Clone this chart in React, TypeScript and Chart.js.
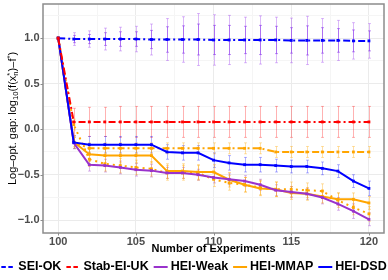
import React, { useEffect, useRef } from "react";
import { Chart, registerables } from "chart.js";

Chart.register(...registerables);

// ---------- data ----------
const experiments = [100, 101, 102, 103, 104, 105, 106, 107, 108, 109, 110, 111, 112, 113, 114, 115, 116, 117, 118, 119, 120];

const seiOK = [1.0, 0.99, 0.99, 0.99, 0.99, 0.99, 0.985, 0.985, 0.985, 0.985, 0.98, 0.98, 0.98, 0.98, 0.98, 0.975, 0.975, 0.975, 0.975, 0.97, 0.97];
const seiOKErr = [0, 0.07, 0.09, 0.12, 0.13, 0.14, 0.17, 0.23, 0.25, 0.285, 0.277, 0.27, 0.25, 0.265, 0.25, 0.245, 0.265, 0.24, 0.22, 0.2, 0.19];
const seiOKErrInner = [0, 0.04, 0.05, 0.07, 0.08, 0.08, 0.1, 0.14, 0.15, 0.17, 0.16, 0.16, 0.15, 0.16, 0.15, 0.14, 0.16, 0.14, 0.13, 0.12, 0.11];

const stabEIUK = [1.0, 0.08, 0.08, 0.08, 0.08, 0.08, 0.08, 0.08, 0.08, 0.08, 0.08, 0.08, 0.08, 0.08, 0.08, 0.08, 0.08, 0.08, 0.08, 0.08, 0.08];
const stabEIUKErr = [0, 0.15, 0.16, 0.16, 0.17, 0.17, 0.17, 0.17, 0.17, 0.17, 0.17, 0.17, 0.17, 0.17, 0.17, 0.17, 0.17, 0.17, 0.17, 0.17, 0.17];

const heiWeak = [1.0, -0.15, -0.39, -0.40, -0.42, -0.445, -0.455, -0.48, -0.48, -0.50, -0.53, -0.55, -0.57, -0.61, -0.67, -0.69, -0.71, -0.75, -0.82, -0.90, -0.99];
const heiWeakErr = [0, 0.06, 0.07, 0.07, 0.07, 0.07, 0.07, 0.06, 0.06, 0.06, 0.06, 0.06, 0.06, 0.06, 0.06, 0.06, 0.06, 0.07, 0.07, 0.08, 0.07];

const heiMMAP = [1.0, -0.14, -0.275, -0.29, -0.29, -0.29, -0.29, -0.46, -0.46, -0.47, -0.47, -0.555, -0.61, -0.65, -0.66, -0.70, -0.71, -0.74, -0.77, -0.77, -0.81];
const heiMMAPErr = [0, 0.07, 0.08, 0.08, 0.08, 0.08, 0.08, 0.08, 0.08, 0.08, 0.08, 0.08, 0.08, 0.08, 0.08, 0.07, 0.07, 0.07, 0.07, 0.07, 0.07];

const heiMMAPDashDot = [1.0, -0.14, -0.21, -0.21, -0.21, -0.21, -0.21, -0.21, -0.21, -0.21, -0.21, -0.21, -0.21, -0.21, -0.25, -0.25, -0.25, -0.25, -0.25, -0.25, -0.25];
const heiMMAPDashDotErr = [0, 0.05, 0.06, 0.06, 0.06, 0.06, 0.06, 0.06, 0.06, 0.06, 0.06, 0.06, 0.06, 0.06, 0.06, 0.06, 0.06, 0.06, 0.06, 0.06, 0.06];

const heiMMAPDotted = [1.0, 0.05, -0.33, -0.38, -0.40, -0.42, -0.435, -0.48, -0.48, -0.48, -0.55, -0.59, -0.61, -0.64, -0.66, -0.66, -0.67, -0.68, -0.78, -0.86, -0.93];
const heiMMAPDottedErr = [0, 0.06, 0.08, 0.08, 0.08, 0.08, 0.08, 0.08, 0.08, 0.08, 0.08, 0.08, 0.08, 0.08, 0.08, 0.08, 0.08, 0.08, 0.08, 0.08, 0.08];

const heiDSD = [1.0, -0.145, -0.17, -0.17, -0.17, -0.17, -0.17, -0.25, -0.26, -0.26, -0.34, -0.37, -0.39, -0.39, -0.40, -0.41, -0.41, -0.43, -0.46, -0.57, -0.65];
const heiDSDErr = [0, 0.07, 0.09, 0.09, 0.09, 0.09, 0.09, 0.08, 0.08, 0.08, 0.08, 0.08, 0.08, 0.08, 0.07, 0.07, 0.07, 0.07, 0.07, 0.07, 0.08];

const xMajorTicks = [100, 105, 110, 115, 120];
const xMinorTicks = [102.5, 107.5, 112.5, 117.5];
const yMajorTicks = [-1.0, -0.5, 0.0, 0.5, 1.0];
const yMinorTicks = [-0.75, -0.25, 0.25, 0.75, 1.25];

const xTitle = "Number of Experiments";

// ---------- helpers ----------
const FONT = '"Liberation Sans", Arial, Helvetica, sans-serif';
const pts = (vals: number[]) => experiments.map((x, i) => ({ x, y: vals[i] }));
const isMajor = (list: number[], v: number) => list.some((m) => Math.abs(m - v) < 1e-9);
const fmtY = (v: number) => {
  const s = Math.abs(v).toFixed(1);
  return v < -1e-9 ? "\u2212" + s : s;
};

const errorBarPlugin = {
  id: "errorBars",
  beforeDatasetsDraw(chart: any) {
    const { ctx, chartArea } = chart;
    const xs = chart.scales.x;
    const ys = chart.scales.y;
    ctx.save();
    ctx.beginPath();
    ctx.rect(chartArea.left, chartArea.top, chartArea.right - chartArea.left, chartArea.bottom - chartArea.top);
    ctx.clip();
    chart.data.datasets.forEach((ds: any) => {
      (ds.errorSets || []).forEach((es: any) => {
        ctx.strokeStyle = es.color;
        ctx.lineWidth = 1;
        ds.data.forEach((p: any, i: number) => {
          const e = es.values[i];
          if (!e) return;
          const x = Math.round(xs.getPixelForValue(p.x)) + 0.5;
          const y1 = ys.getPixelForValue(p.y + e);
          const y2 = ys.getPixelForValue(p.y - e);
          ctx.beginPath();
          ctx.moveTo(x, y1);
          ctx.lineTo(x, y2);
          ctx.moveTo(x - 1.5, y1);
          ctx.lineTo(x + 1.5, y1);
          ctx.moveTo(x - 1.5, y2);
          ctx.lineTo(x + 1.5, y2);
          ctx.stroke();
        });
      });
    });
    ctx.restore();
  },
};

const framePlugin = {
  id: "frame",
  afterDatasetsDraw(chart: any) {
    const { ctx, chartArea } = chart;
    const xs = chart.scales.x;
    const ys = chart.scales.y;
    ctx.save();
    ctx.strokeStyle = "#8c8c8c";
    ctx.lineWidth = 1.5;
    ctx.strokeRect(chartArea.left, chartArea.top, chartArea.right - chartArea.left, chartArea.bottom - chartArea.top);
    ctx.lineWidth = 1;
    ctx.beginPath();
    xMajorTicks.forEach((v) => {
      const x = Math.round(xs.getPixelForValue(v)) + 0.5;
      ctx.moveTo(x, chartArea.bottom);
      ctx.lineTo(x, chartArea.bottom + 2.5);
    });
    yMajorTicks.forEach((v) => {
      const y = Math.round(ys.getPixelForValue(v)) + 0.5;
      ctx.moveTo(chartArea.left, y);
      ctx.lineTo(chartArea.left - 2.5, y);
    });
    ctx.stroke();
    ctx.restore();
  },
};

const legendPlugin = {
  id: "customLegend",
  afterDraw(chart: any) {
    const { ctx, width } = chart;
    const items = chart.data.datasets.filter((d: any) => d.inLegend).sort((a: any, b: any) => a.legendIndex - b.legendIndex);
    const sample = 14;
    const gapText = 3;
    const gapItem = 5;
    ctx.save();
    ctx.font = `bold 12.5px ${FONT}`;
    const widths = items.map((d: any) => ctx.measureText(d.label).width);
    const total = widths.reduce((a: number, b: number) => a + b, 0) + items.length * (sample + gapText) + (items.length - 1) * gapItem;
    let x = (width - total) / 2;
    const y = 267;
    items.forEach((d: any, i: number) => {
      ctx.strokeStyle = d.borderColor;
      ctx.lineWidth = 2;
      ctx.setLineDash(d.legendDash || []);
      ctx.beginPath();
      ctx.moveTo(x, y);
      ctx.lineTo(x + sample, y);
      ctx.stroke();
      ctx.setLineDash([]);
      x += sample + gapText;
      ctx.fillStyle = "#000";
      ctx.textBaseline = "middle";
      ctx.textAlign = "left";
      ctx.fillText(d.label, x, y);
      x += widths[i] + gapItem;
    });
    ctx.restore();
  },
};

const yTitlePlugin = {
  id: "yTitle",
  afterDraw(chart: any) {
    const { ctx, chartArea } = chart;
    const size = 11;
    const small = 7.7;
    const segs: any[] = [
      { t: "Log\u2013opt. gap: log", s: size, dy: 0 },
      { t: "10", s: small, dy: 2.5 },
      { t: "(f(x", s: size, dy: 0 },
      { stack: true, sup: "*", sub: "n" },
      { t: ")\u2013f", s: size, dy: 0 },
      { t: "*", s: small, dy: -4 },
      { t: ")", s: size, dy: 0 },
    ];
    ctx.save();
    const measure = (t: string, s: number) => {
      ctx.font = `${s}px ${FONT}`;
      return ctx.measureText(t).width;
    };
    let total = 0;
    segs.forEach((sg) => {
      if (sg.stack) total += Math.max(measure(sg.sup, small), measure(sg.sub, small));
      else total += measure(sg.t, sg.s);
    });
    const cx = 11.5;
    const cy = (chartArea.top + chartArea.bottom) / 2;
    ctx.translate(cx, cy);
    ctx.rotate(-Math.PI / 2);
    ctx.fillStyle = "#000";
    ctx.textBaseline = "alphabetic";
    ctx.textAlign = "left";
    let x = -total / 2;
    const base = 4;
    segs.forEach((sg) => {
      if (sg.stack) {
        ctx.font = `${small}px ${FONT}`;
        const w = Math.max(ctx.measureText(sg.sup).width, ctx.measureText(sg.sub).width);
        ctx.fillText(sg.sup, x, base - 4);
        ctx.fillText(sg.sub, x, base + 2.5);
        x += w;
      } else {
        ctx.font = `${sg.s}px ${FONT}`;
        ctx.fillText(sg.t, x, base + sg.dy);
        x += ctx.measureText(sg.t).width;
      }
    });
    ctx.restore();
  },
};

export default function App() {
  const canvasRef = useRef<HTMLCanvasElement | null>(null);

  useEffect(() => {
    document.body.style.margin = "0";
    const canvas = canvasRef.current;
    if (!canvas) return;

    const lineBase = {
      borderWidth: 2,
      pointStyle: "rect",
      pointRadius: 2,
      pointBorderWidth: 0,
      tension: 0,
      fill: false,
    };

    const chart = new Chart(canvas, {
      type: "line",
      data: {
        datasets: [
          {
            ...lineBase,
            label: "Stab-EI-UK",
            data: pts(stabEIUK),
            borderColor: "#ff0000",
            backgroundColor: "#ff0000",
            borderDash: [7, 3, 2, 3],
            errorSets: [{ values: stabEIUKErr, color: "rgba(255,0,0,0.3)" }],
            inLegend: true,
            legendIndex: 1,
            legendDash: [4.5, 2.5],
          },
          {
            ...lineBase,
            label: "HEI-DSD",
            data: pts(heiDSD),
            borderColor: "#0000ff",
            backgroundColor: "#0000ff",
            errorSets: [{ values: heiDSDErr, color: "rgba(0,0,255,0.3)" }],
            inLegend: true,
            legendIndex: 4,
          },
          {
            ...lineBase,
            label: "SEI-OK",
            data: pts(seiOK),
            borderColor: "#0000ff",
            backgroundColor: "#0000ff",
            borderDash: [7, 3, 2, 3],
            errorSets: [
              { values: seiOKErr, color: "rgba(160,70,240,0.38)" },
              { values: seiOKErrInner, color: "rgba(130,40,235,0.5)" },
            ],
            inLegend: true,
            legendIndex: 0,
            legendDash: [4.5, 2.5],
          },
          {
            ...lineBase,
            label: "HEI-Weak",
            data: pts(heiWeak),
            borderColor: "#9932cc",
            backgroundColor: "#9932cc",
            errorSets: [{ values: heiWeakErr, color: "rgba(153,50,204,0.35)" }],
            inLegend: true,
            legendIndex: 2,
          },
          {
            ...lineBase,
            label: "HEI-MMAP",
            data: pts(heiMMAP),
            borderColor: "#ffa500",
            backgroundColor: "#ffa500",
            errorSets: [{ values: heiMMAPErr, color: "rgba(255,165,0,0.4)" }],
            inLegend: true,
            legendIndex: 3,
          },
          {
            ...lineBase,
            label: "HEI-MMAP (dash-dot)",
            data: pts(heiMMAPDashDot),
            borderColor: "#ffa500",
            backgroundColor: "#ffa500",
            borderDash: [7, 3, 2, 3],
            errorSets: [{ values: heiMMAPDashDotErr, color: "rgba(255,165,0,0.35)" }],
          },
          {
            ...lineBase,
            label: "HEI-MMAP (dotted)",
            data: pts(heiMMAPDotted),
            borderColor: "#ffa500",
            backgroundColor: "#ffa500",
            borderDash: [2, 4],
            errorSets: [{ values: heiMMAPDottedErr, color: "rgba(255,165,0,0.35)" }],
          },
        ],
      },
      options: {
        animation: false,
        responsive: false,
        devicePixelRatio: 1,
        layout: { padding: { top: 2, right: 3, bottom: 20, left: 0 } },
        plugins: { legend: { display: false }, tooltip: { enabled: false } },
        scales: {
          x: {
            type: "linear",
            min: 99.02,
            max: 120.97,
            afterBuildTicks: (scale: any) => {
              scale.ticks = [...xMajorTicks, ...xMinorTicks].sort((a, b) => a - b).map((v) => ({ value: v }));
            },
            afterFit: (scale: any) => {
              scale.height = 27;
              scale.paddingLeft = 0;
              scale.paddingRight = 0;
            },
            ticks: {
              autoSkip: false,
              maxRotation: 0,
              padding: 2,
              color: "#4d4d4d",
              font: { family: FONT, size: 11, weight: "bold" },
              callback: (v: any) => (isMajor(xMajorTicks, Number(v)) ? String(v) : ""),
            },
            grid: {
              drawTicks: false,
              color: (c: any) => (c.tick && isMajor(xMajorTicks, c.tick.value) ? "#ebebeb" : "#f5f5f5"),
              lineWidth: 1,
            },
            border: { display: false },
            title: {
              display: true,
              text: xTitle,
              color: "#000",
              font: { family: FONT, size: 11, weight: "bold" },
              padding: { top: 0, bottom: 4 },
            },
          },
          y: {
            type: "linear",
            min: -1.14,
            max: 1.375,
            afterBuildTicks: (scale: any) => {
              scale.ticks = [...yMajorTicks, ...yMinorTicks].sort((a, b) => a - b).map((v) => ({ value: v }));
            },
            afterFit: (scale: any) => {
              scale.width = 43;
              scale.paddingTop = 0;
              scale.paddingBottom = 0;
            },
            ticks: {
              autoSkip: false,
              padding: 3.5,
              color: "#4d4d4d",
              font: { family: FONT, size: 11, weight: "bold" },
              callback: (v: any) => (isMajor(yMajorTicks, Number(v)) ? fmtY(Number(v)) : ""),
            },
            grid: {
              drawTicks: false,
              color: (c: any) => (c.tick && isMajor(yMajorTicks, c.tick.value) ? "#ebebeb" : "#f5f5f5"),
              lineWidth: 1,
            },
            border: { display: false },
            title: { display: false },
          },
        },
      },
      plugins: [errorBarPlugin, framePlugin, legendPlugin, yTitlePlugin],
    } as any);

    return () => chart.destroy();
  }, []);

  return (
    <div style={{ width: 388, height: 280, background: "#fff" }}>
      <canvas ref={canvasRef} width={388} height={280} style={{ display: "block" }} />
    </div>
  );
}
